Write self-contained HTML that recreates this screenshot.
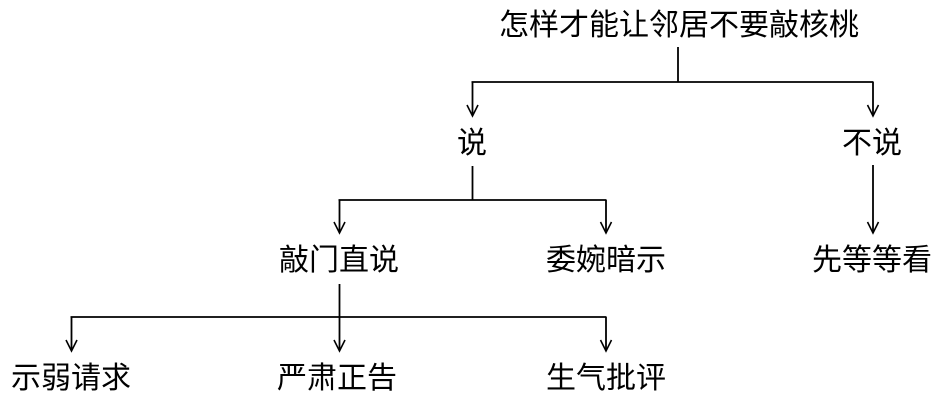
<!DOCTYPE html>
<html>
<head>
<meta charset="utf-8">
<style>
  html, body { margin: 0; padding: 0; background: #ffffff; }
  body { width: 946px; height: 400px; overflow: hidden; }
  svg { display: block; }
  text { font-family: "Liberation Sans", "Noto Sans CJK SC", "WenQuanYi Zen Hei", sans-serif; font-size: 30px; fill: #000; }
</style>
</head>
<body>
<svg width="946" height="400" viewBox="0 0 946 400" xmlns="http://www.w3.org/2000/svg">
  <g fill="none" stroke="#000" stroke-width="1.8" stroke-linecap="butt">
    <!-- top connector -->
    <line x1="678" y1="47" x2="678" y2="82"/>
    <line x1="471.5" y1="82" x2="873.5" y2="82"/>
    <line x1="472.5" y1="82" x2="472.5" y2="116"/>
    <line x1="873" y1="82" x2="873" y2="116"/>
    <!-- 说 connector -->
    <line x1="472.5" y1="166" x2="472.5" y2="200"/>
    <line x1="338.5" y1="200" x2="606.5" y2="200"/>
    <line x1="339.5" y1="200" x2="339.5" y2="233"/>
    <line x1="606" y1="200" x2="606" y2="233"/>
    <!-- 不说 connector -->
    <line x1="873" y1="165" x2="873" y2="233"/>
    <!-- 敲门直说 connector -->
    <line x1="339.5" y1="284" x2="339.5" y2="317"/>
    <line x1="70.5" y1="317" x2="606.5" y2="317"/>
    <line x1="71.5" y1="317" x2="71.5" y2="351"/>
    <line x1="339.5" y1="317" x2="339.5" y2="351"/>
    <line x1="606" y1="317" x2="606" y2="351"/>
  </g>
  <g fill="none" stroke="#000" stroke-width="1.6" stroke-linejoin="miter">
    <polyline points="467,105 472.5,116 478,105"/>
    <polyline points="867.5,105 873,116 878.5,105"/>
    <polyline points="334,222 339.5,233 345,222"/>
    <polyline points="600.5,222 606,233 611.5,222"/>
    <polyline points="867.5,222 873,233 878.5,222"/>
    <polyline points="66,340 71.5,351 77,340"/>
    <polyline points="334,340 339.5,351 345,340"/>
    <polyline points="600.5,340 606,351 611.5,340"/>
  </g>
  <g text-anchor="middle">
    <text x="679" y="35">怎样才能让邻居不要敲核桃</text>
    <text x="472" y="153">说</text>
    <text x="872" y="153">不说</text>
    <text x="339" y="270">敲门直说</text>
    <text x="606" y="270">委婉暗示</text>
    <text x="872" y="270">先等等看</text>
    <text x="71" y="388">示弱请求</text>
    <text x="337" y="388">严肃正告</text>
    <text x="606" y="388">生气批评</text>
  </g>
</svg>
</body>
</html>
